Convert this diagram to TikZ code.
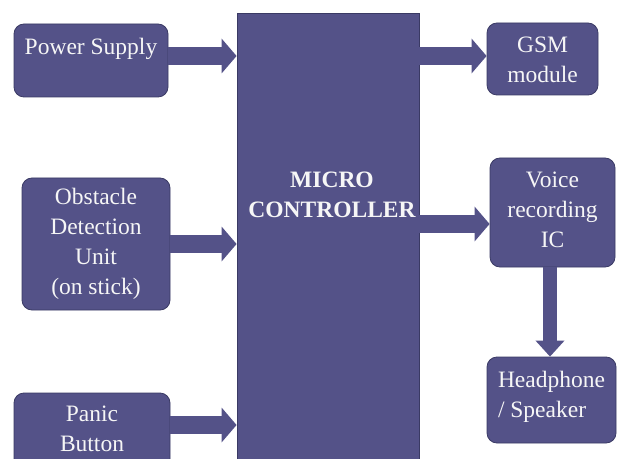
\documentclass[tikz,border=0pt]{standalone}
\usepackage{fontspec}
\setmainfont{Liberation Serif}
\usetikzlibrary{arrows.meta,calc}
\definecolor{boxfill}{RGB}{84,82,136}
\definecolor{boxline}{RGB}{58,58,100}
\definecolor{txt}{RGB}{246,246,246}
\tikzset{
  blockbox/.style={draw=boxline, line width=0.8pt, fill=boxfill, rounded corners=10pt, inner sep=0pt},
  mcbox/.style={draw=boxline, line width=0.8pt, fill=boxfill, inner sep=0pt},
  lbl/.style={text=txt, font=\fontsize{23.5}{30}\selectfont, align=center, inner sep=0pt},
  blk/.style={draw=boxfill, line width=18pt, -{Triangle[length=15pt,width=34pt]}},
}
\begin{document}
\begin{tikzpicture}[x=1pt,y=1pt]
\clip (0,0) rectangle (617,458);
\fill[white] (0,0) rectangle (617,458);
% boxes
\node[mcbox, minimum width=182pt, minimum height=465pt] (mc) at (328,212.5) {};
\node[blockbox, minimum width=154pt, minimum height=73pt] (ps) at (91,397.5) {};
\node[blockbox, minimum width=148pt, minimum height=132pt] (ob) at (96,214) {};
\node[blockbox, minimum width=156pt, minimum height=90pt] (pb) at (92,20) {};
\node[blockbox, minimum width=111pt, minimum height=72pt] (gsm) at (542.5,399) {};
\node[blockbox, minimum width=125pt, minimum height=109pt] (vr) at (552.5,245.5) {};
\node[blockbox, minimum width=129pt, minimum height=86pt] (hp) at (551.5,58) {};
% labels
\node[lbl] (pst) at (91,409) {Power Supply};
\node[lbl] (obt) at (96,214) {Obstacle\\Detection\\Unit\\(on stick)};
\node[lbl] (pbt) at (92,29) {Panic\\Button};
\node[lbl, font=\fontsize{23.5}{30}\selectfont\bfseries] (mct) at (332,263) {MICRO\\CONTROLLER};
\node[lbl] (gsmt) at (542.5,398) {GSM\\module};
\node[lbl] (vrt) at (552.5,248) {Voice\\recording\\IC};
\node[lbl, align=left] (hpt) at (551.5,61) {Headphone\\/ Speaker};
% arrows
\coordinate (a1) at ([yshift=4.5pt]ps.east);
\draw[blk] (a1) -- (a1 -| mc.west);
\coordinate (a2) at (ob.east);
\draw[blk] (a2) -- (a2 -| mc.west);
\coordinate (a3) at (pb.east |- 0,33);
\draw[blk] (a3) -- (a3 -| mc.west);
\coordinate (a4) at (mc.east |- 0,402);
\draw[blk] (a4) -- (a4 -| gsm.west);
\coordinate (a5) at (mc.east |- 0,234);
\draw[blk] (a5) -- (a5 -| vr.west);
\coordinate (a6) at (550,0 |- vr.south);
\draw[blk, line width=14pt, -{Triangle[length=16pt,width=28pt]}] (a6) -- (a6 |- hp.north);
\end{tikzpicture}
\end{document}
